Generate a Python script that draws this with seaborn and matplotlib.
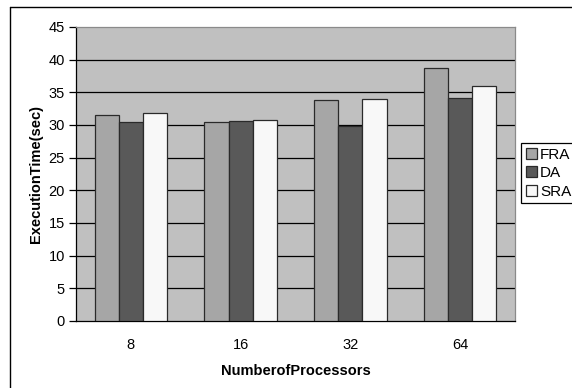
import matplotlib
matplotlib.use("Agg")
import matplotlib.pyplot as plt
from matplotlib.lines import Line2D
import seaborn as sns
import pandas as pd

processors = ["8", "16", "32", "64"]
methods = ["FRA", "DA", "SRA"]
fra = [31.5, 30.4, 33.9, 38.8]
da = [30.4, 30.6, 29.8, 34.2]
sra = [31.9, 30.7, 34.0, 35.9]
y_ticks = [0, 5, 10, 15, 20, 25, 30, 35, 40, 45]

df = pd.DataFrame({
    "Processors": processors * 3,
    "Method": [m for m in methods for _ in processors],
    "Time": fra + da + sra,
})

sns.set_theme(style="white")
plt.rcParams["font.family"] = ["Liberation Sans", "DejaVu Sans"]
plt.rcParams["text.color"] = "black"
plt.rcParams["axes.labelcolor"] = "black"
plt.rcParams["xtick.color"] = "black"
plt.rcParams["ytick.color"] = "black"

fig = plt.figure(figsize=(5.72, 3.88), dpi=100)
ax = fig.add_axes([76 / 572, 1 - 321 / 388, (515 - 76) / 572, (321 - 27) / 388])
ax.set_facecolor("#C0C0C0")

palette = {"FRA": "#A6A6A6", "DA": "#595959", "SRA": "#F8F8F8"}
sns.barplot(data=df, x="Processors", y="Time", hue="Method", order=processors,
            hue_order=methods, palette=palette, width=0.66, saturation=1,
            edgecolor="#2a2a2a", linewidth=0.9, ax=ax, zorder=3)

# horizontal gridlines behind the bars
for y in y_ticks[1:-1]:
    ax.axhline(y, color="black", linewidth=0.9, zorder=1)

ax.set_ylim(0, 45)
ax.set_xlim(-0.5, 3.5)
ax.set_yticks(y_ticks)
ax.set_yticklabels([str(v) for v in y_ticks], fontsize=10.5)
ax.set_xticks(range(len(processors)))
ax.set_xticklabels(processors, fontsize=10.5)
ax.set_xticks([i - 0.5 for i in range(len(processors) + 1)], minor=True)
ax.tick_params(axis="x", which="major", length=0, pad=12)
ax.tick_params(axis="x", which="minor", length=5, width=0.9, color="black", direction="out")
ax.tick_params(axis="y", length=5, width=0.9, color="black", direction="out", left=True, pad=3)

for side in ["left", "bottom"]:
    ax.spines[side].set_color("black")
    ax.spines[side].set_linewidth(0.9)
for side in ["top", "right"]:
    ax.spines[side].set_color("#8a8a8a")
    ax.spines[side].set_linewidth(0.9)

ax.set_xlabel("NumberofProcessors", fontsize=10.5, fontweight="bold", labelpad=9)
ax.set_ylabel("ExecutionTime(sec)", fontsize=10.5, fontweight="bold", labelpad=4)

handles, labels = ax.get_legend_handles_labels()
ax.legend(handles, labels, loc="upper left",
          bbox_to_anchor=(521 / 572, 1 - 143 / 388), bbox_transform=fig.transFigure,
          fontsize=11, frameon=True, fancybox=False, edgecolor="black",
          framealpha=1, handlelength=0.75, handleheight=0.75, handletextpad=0.2,
          borderpad=0.3, labelspacing=0.3, borderaxespad=0)
ax.get_legend().get_frame().set_linewidth(0.9)

# chart border
fig.add_artist(Line2D([10 / 572, 10 / 572], [0, 1 - 7 / 388], transform=fig.transFigure,
                      color="black", linewidth=1))
fig.add_artist(Line2D([10 / 572, 1], [1 - 7 / 388, 1 - 7 / 388], transform=fig.transFigure,
                      color="black", linewidth=1))

fig.savefig("out.png", dpi=100, facecolor="white")
